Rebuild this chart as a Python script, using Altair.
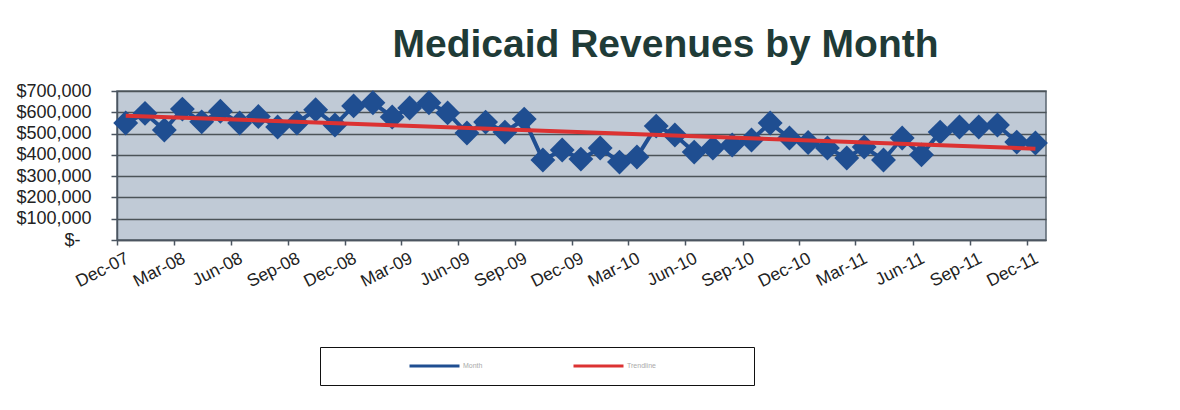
import altair as alt
import pandas as pd

# ---- data ----
months = [
    "2007-12-15", "2008-01-15", "2008-02-15", "2008-03-15", "2008-04-15", "2008-05-15",
    "2008-06-15", "2008-07-15", "2008-08-15", "2008-09-15", "2008-10-15", "2008-11-15",
    "2008-12-15", "2009-01-15", "2009-02-15", "2009-03-15", "2009-04-15", "2009-05-15",
    "2009-06-15", "2009-07-15", "2009-08-15", "2009-09-15", "2009-10-15", "2009-11-15",
    "2009-12-15", "2010-01-15", "2010-02-15", "2010-03-15", "2010-04-15", "2010-05-15",
    "2010-06-15", "2010-07-15", "2010-08-15", "2010-09-15", "2010-10-15", "2010-11-15",
    "2010-12-15", "2011-01-15", "2011-02-15", "2011-03-15", "2011-04-15", "2011-05-15",
    "2011-06-15", "2011-07-15", "2011-08-15", "2011-09-15", "2011-10-15", "2011-11-15",
    "2011-12-15",
]
revenues = [
    550000, 595000, 517000, 615000, 555000, 605000,
    550000, 580000, 531000, 550000, 612000, 540000,
    630000, 645000, 578000, 620000, 645000, 597000,
    503000, 554000, 507000, 568000, 376000, 423000,
    380000, 432000, 366000, 390000, 535000, 493000,
    413000, 432000, 446000, 470000, 550000, 479000,
    458000, 432000, 385000, 437000, 376000, 479000,
    400000, 507000, 531000, 531000, 540000, 460000,
    456000,
]
series_names = ["Month", "Trendline"]
series_colors = ["#1f4e91", "#dc3232"]
y_ticks = [0, 100000, 200000, 300000, 400000, 500000, 600000, 700000]
x_tick_months = [(2007, 12), (2008, 3), (2008, 6), (2008, 9), (2008, 12),
                 (2009, 3), (2009, 6), (2009, 9), (2009, 12),
                 (2010, 3), (2010, 6), (2010, 9), (2010, 12),
                 (2011, 3), (2011, 6), (2011, 9), (2011, 12)]

df = pd.DataFrame({"date": months, "revenue": revenues})
df["series"] = series_names[0]

FONT = "Liberation Sans"

x_enc = alt.X(
    "date:T",
    scale=alt.Scale(
        type="utc",
        domain=[alt.DateTime(year=2007, month=12, date=1, utc=True),
                alt.DateTime(year=2012, month=1, date=1, utc=True)],
    ),
    axis=alt.Axis(
        title=None,
        values=[alt.DateTime(year=y, month=m, date=1, utc=True) for y, m in x_tick_months],
        labelExpr="utcFormat(datum.value, '%b-%y')",
        labelAngle=-27,
        labelFontSize=17.5,
        labelFont=FONT,
        labelColor="#222222",
        labelPadding=4,
        labelOffset=6,
        tickSize=5,
        tickColor="#4b5560",
        tickWidth=1.5,
        domainColor="#4b5560",
        domainWidth=1.5,
        grid=False,
        labelOverlap=False,
        labelBound=False,
        labelFlush=False,
    ),
)

y_enc = alt.Y(
    "revenue:Q",
    scale=alt.Scale(domain=[0, 700000], nice=False),
    axis=alt.Axis(
        title=None,
        values=y_ticks,
        labelExpr="datum.value == 0 ? '$-' : '$' + format(datum.value, ',')",
        labelFontSize=18,
        labelFont=FONT,
        labelColor="#222222",
        labelPadding={"condition": {"test": "datum.value == 0", "value": 31}, "value": 20},
        tickSize=6,
        tickColor="#4b5560",
        tickWidth=1.5,
        domainColor="#4b5560",
        domainWidth=1.5,
        grid=True,
        gridColor="#4b5358",
        gridWidth=1.5,
        labelFlush=False,
    ),
)

color_enc = alt.Color(
    "series:N",
    scale=alt.Scale(domain=series_names, range=series_colors),
    legend=alt.Legend(
        orient="none",
        legendX=203,
        legendY=256,
        direction="horizontal",
        title="\u2800" * 10,
        titleOrient="right",
        titleFontSize=10,
        titleFont="DejaVu Sans",
        titlePadding=5,
        symbolType="stroke",
        symbolSize=2500,
        symbolStrokeWidth=3,
        symbolOffset=74,
        labelOffset=2,
        labelFontSize=7,
        labelColor="#aaaaaa",
        labelFont=FONT,
        columnPadding=15,
        clipHeight=10,
        padding=14,
        strokeColor="#111111",
        fillColor="#ffffff",
    ),
)

base = alt.Chart(df)

line = base.mark_line(strokeWidth=4).encode(x=x_enc, y=y_enc, color=color_enc)

points = base.mark_point(shape="diamond", filled=True, size=620, opacity=1).encode(
    x=x_enc, y=y_enc, color=alt.value(series_colors[0])
)

trend = (
    base.transform_regression("date", "revenue")
    .transform_calculate(series=f"'{series_names[1]}'")
    .mark_line(strokeWidth=4)
    .encode(x=x_enc, y=y_enc, color=color_enc)
)

chart = (
    alt.layer(line, points, trend)
    .properties(
        width=929,
        height=149,
        padding={"left": 117, "top": 91, "right": 134, "bottom": 170},
        autosize=alt.AutoSizeParams(type="none"),
        background="#ffffff",
        title=alt.TitleParams(
            text="Medicaid Revenues by Month",
            font=FONT,
            fontSize=39,
            fontWeight="bold",
            color="#1f3b37",
            anchor="middle",
            dx=84,
            offset=17,
        ),
    )
    .configure_view(fill="#c0cad6", stroke="#5a6670", strokeWidth=1.5)
)

chart.save("out.html", embed_options={"renderer": "svg", "actions": False})
